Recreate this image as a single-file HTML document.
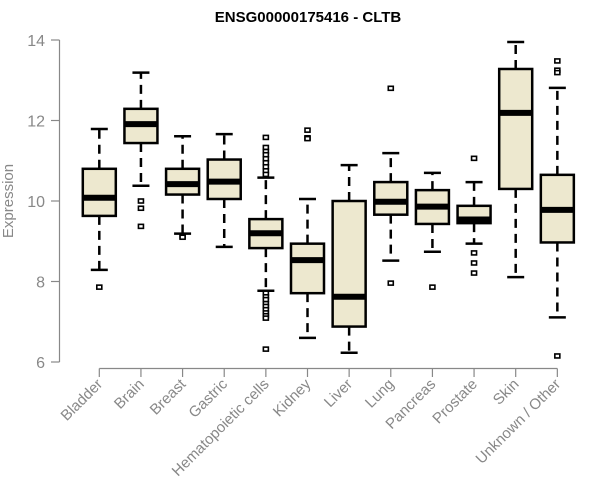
<!DOCTYPE html>
<html><head><meta charset="utf-8"><style>
html,body{margin:0;padding:0;background:#fff}
svg{display:block;font-family:"Liberation Sans",Arial,sans-serif}
</style></head><body>
<svg id="chart" width="600" height="500">
<text x="308" y="22" text-anchor="middle" font-weight="bold" font-size="15" fill="#000">ENSG00000175416 - CLTB</text>
<text transform="translate(13,201) rotate(-90)" text-anchor="middle" font-size="15" fill="#888">Expression</text>
<g id="plot"></g>
</svg>
<script>
const categories=["Bladder","Brain","Breast","Gastric","Hematopoietic cells","Kidney","Liver","Lung","Pancreas","Prostate","Skin","Unknown / Other"];
const whiskerLow=[8.29,10.38,9.19,8.86,7.77,6.60,6.23,8.52,8.74,8.94,8.11,7.11];
const q1=[9.63,11.44,10.16,10.05,8.83,7.71,6.88,9.66,9.43,9.45,10.30,8.97];
const medians=[10.08,11.91,10.42,10.48,9.20,8.53,7.62,9.98,9.86,9.54,12.19,9.78];
const q3=[10.80,12.29,10.80,11.03,9.55,8.94,10.0,10.47,10.27,9.88,13.28,10.65];
const whiskerHigh=[11.79,13.19,11.61,11.66,10.58,10.05,10.89,11.19,10.70,10.47,13.95,12.81];
const outliers=[[7.86],[10.0,9.82,9.37],[9.13,9.10],[],
[11.58,11.33,11.23,11.15,11.05,10.95,10.85,10.75,10.66,7.71,7.62,7.55,7.45,7.38,7.30,7.22,7.15,7.09,6.32],
[11.76,11.57,11.55],[],[12.80,7.96],[7.86],[11.06,8.71,8.46,8.21],[],[13.48,13.25,13.19,6.15]];
const yTicks=[6,8,10,12,14];

const NS="http://www.w3.org/2000/svg";
const g=document.getElementById('plot');
const yScale=v=>362-(v-6)*40.25;
const xScale=i=>99.3+i*41.64;
function mk(tag,attrs){const e=document.createElementNS(NS,tag);for(const k in attrs)e.setAttribute(k,attrs[k]);g.appendChild(e);return e;}
// y axis
let ax=mk('line',{x1:59.5,x2:59.5,y1:yScale(14),y2:yScale(6),stroke:'#888','stroke-width':1.2});


yTicks.forEach(t=>{
 const l=mk('line',{x1:51,x2:59.5,y1:yScale(t),y2:yScale(t),stroke:'#888','stroke-width':1.2});
 
 
 const tx=mk('text',{x:45,y:yScale(t)+6,'text-anchor':'end','font-size':16,fill:'#888'});
 tx.textContent=t;
 
 
});
// x axis
let xa=mk('line',{x1:xScale(0),x2:xScale(categories.length-1),y1:368.5,y2:368.5,stroke:'#888','stroke-width':1.2});


categories.forEach((c,i)=>{
 const x=xScale(i);
 const t=mk('line',{x1:x,x2:x,y1:368.5,y2:377,stroke:'#888','stroke-width':1.2});
 
 
 const tx=mk('text',{transform:`translate(${x+4},${385}) rotate(-45)`,'text-anchor':'end','font-size':15,fill:'#888'});
 tx.textContent=c;
 
 
 // whiskers
 const w1=mk('line',{x1:x,x2:x,y1:yScale(q3[i]),y2:yScale(whiskerHigh[i]),stroke:'#000','stroke-width':2.5,'stroke-dasharray':'9,6'});
 
 
 const w2=mk('line',{x1:x,x2:x,y1:yScale(q1[i]),y2:yScale(whiskerLow[i]),stroke:'#000','stroke-width':2.5,'stroke-dasharray':'9,6'});
 
 
 const c1=mk('line',{x1:x-8.5,x2:x+8.5,y1:yScale(whiskerHigh[i]),y2:yScale(whiskerHigh[i]),stroke:'#000','stroke-width':2.5});
 
 
 const c2=mk('line',{x1:x-8.5,x2:x+8.5,y1:yScale(whiskerLow[i]),y2:yScale(whiskerLow[i]),stroke:'#000','stroke-width':2.5});
 
 
 const b=mk('rect',{x:x-16.5,y:yScale(q3[i]),width:33,height:yScale(q1[i])-yScale(q3[i]),fill:'#ede8cf',stroke:'#000','stroke-width':2.5});
 
 
 const m=mk('line',{x1:x-16.5,x2:x+16.5,y1:yScale(medians[i]),y2:yScale(medians[i]),stroke:'#000','stroke-width':6});
 
 
 outliers[i].forEach(v=>{
  const o=mk('rect',{x:x-2.5,y:yScale(v)-2,width:5,height:4,fill:'#fff',stroke:'#000','stroke-width':1.6});
  
  
 });
});
</script>
</body></html>
